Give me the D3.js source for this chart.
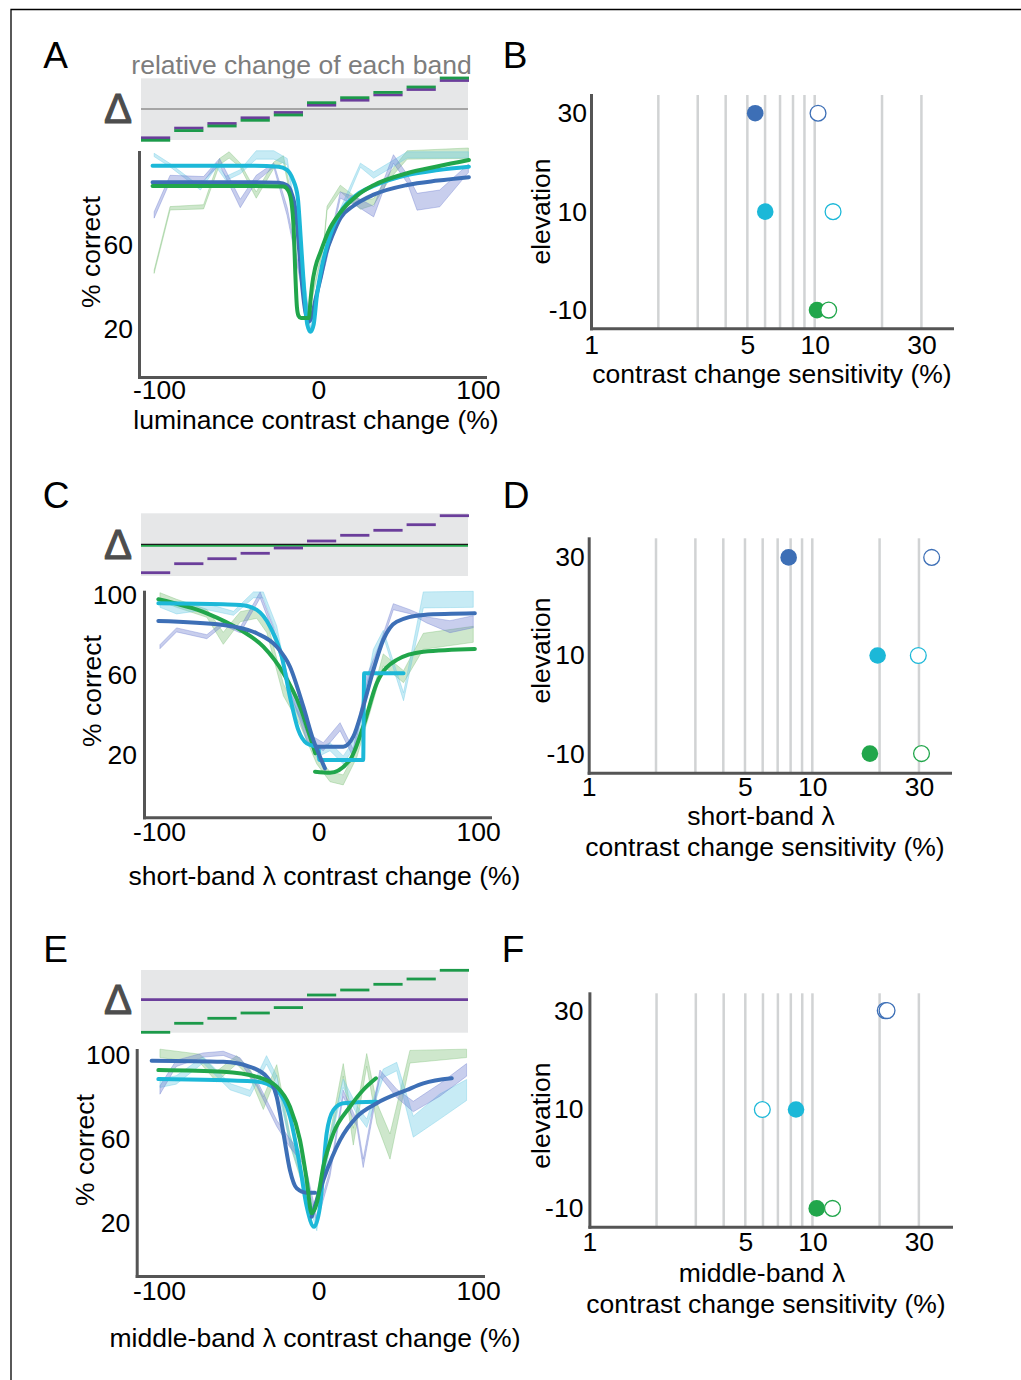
<!DOCTYPE html>
<html>
<head>
<meta charset="utf-8">
<script src="https://cdn.jsdelivr.net/npm/d3@7"></script>
<style>
  body { margin: 0; background: #fff; }
  svg { display: block; font-family: "Liberation Sans", Arial, sans-serif; }
</style>
</head>
<body>
<div id="chart"></div>
<script>
'use strict';

// colours
const BLUE = '#3d6fb6';
const CYAN = '#1cb8d8';
const GREEN = '#21a64b';
const PURPLE = '#6b3e9b';
const STEPGREEN = '#1c9a4a';
const NBLUE = '#6f7fcf';
const NCYAN = '#6ccbe6';
const NGREEN = '#7fbf7a';

// step bars: relative change of each band per stimulus level
const stepLevels = [1, 2, 3, 4, 5, 6, 7, 8, 9, 10];
const stepPurpleA = [-28.8, -19.1, -14.5, -8.8, -3.5, 3.8, 8.8, 14.1, 19.5, 28.5];
const stepGreenA = [-31.3, -21.6, -17.0, -11.3, -6.0, 6.3, 11.3, 16.6, 22.0, 31.0];
const stepPurpleC = [-27.7, -18.7, -13.7, -8.3, -3.0, 4.0, 9.7, 14.7, 20.3, 29.3];
const flatGreenC = -0.8;
const stepGreenE = [-32.7, -23.7, -18.7, -13.4, -8.0, 4.6, 9.6, 15.3, 20.6, 29.3];
const flatPurpleE = 0;

// raw % correct traces: [contrast change, % correct, half band width]
const noisyBlueA = [[-103,74.3,1.5],[-93,91.7,1.5],[-72,91.6,1],[-62,99.7,1.5],[-49,79.8,2],[-39,91.7,1.5],[-28,98,1],[-19.6,75.9,2],[-11.3,44,1.5],[-5,25,1],[5,54,1.5],[13.7,83.8,1.5],[24,80.6,2],[34.6,75.9,2.5],[47,101,2],[55.6,91.7,2],[61.8,80.6,4],[76,82.2,4],[94,96.5,2]];
const noisyCyanA = [[-103,102.9,0.8],[-93,98,0.8],[-74,87,0.8],[-64,98,1],[-58,91.7,1],[-49,94.9,1],[-39,102.9,2],[-28,102.9,2],[-19.6,99.7,1.5],[-11.3,60,1.5],[-5,19.5,1],[5,56.8,2],[13.7,75.9,1.5],[26.3,98,1],[34.6,93.3,1.5],[45,98,1.5],[55.6,102.9,1.5],[94,102.9,1.5]];
const noisyGreenA = [[-103,47.3,0.8],[-93,77.5,0.8],[-72,78.2,1],[-62,99.7,1.5],[-56,102.9,1.5],[-49,98,1],[-39,83.8,1.5],[-28,98,1.5],[-22,101,1.5],[-13,67.9,1.5],[-7,25,1],[3.3,60,1],[5.4,77.5,1],[13.7,87,1.5],[26.3,79,2],[34.6,80.6,1.5],[45,93.3,1.5],[55.6,102.9,2],[94,103.7,2.5]];

const noisyBlueC = [[-99.4,74.3,1],[-89,82.7,1],[-70,79.3,1],[-59.7,86,1],[-49,82.7,1.5],[-36.6,100.2,1.5],[-28.3,82.7,1.5],[-17.9,54.3,2],[-7.4,29.3,2],[3,24.3,2],[13.5,34.3,2],[21.8,21,2],[30.2,57.7,2],[38.5,74.3,1.5],[46.9,94.3,1.5],[57.3,91.8,1],[67.8,87.7,1.5],[82.4,84.3,3],[97,86.8,3]];
const noisyCyanC = [[-99.4,96,2],[-89,92.7,2],[-70,94.3,1.5],[-53.3,91,1],[-40.8,100.2,1.5],[-34.6,100.2,1.5],[-26.2,82.7,2],[-17.9,49.3,2],[-9.5,37.7,2],[-1.1,21,2],[7.2,24.3,2],[15.5,17.7,2],[24,27.7,2],[34.4,71,2],[40.6,81,1.5],[53.3,49.3,2],[65.7,97.7,4],[97,98,4]];
const noisyGreenC = [[-99.4,99.3,2],[-89,96,2],[-70,91,2],[-59.7,78.5,3],[-49,89.3,2.5],[-38.7,91,2.5],[-32.4,84.3,3],[-22,52.7,3],[-11.6,37.7,2.5],[-1.1,17.7,2],[7.2,9.3,2.5],[15.5,7.7,2.5],[24,21,2],[32.4,44.3,2.5],[40.6,67.7,3],[53.3,59.3,3],[65.7,77,4],[97,80.5,4]];

const noisyBlueE = [[-99.4,83.3,2],[-89.2,96,1.5],[-72.3,100,1],[-59.7,100.8,1],[-49.2,97.7,1],[-38.7,86.5,1.5],[-26.2,67.4,1.5],[-17.9,57.9,2],[-9.5,49.9,2],[-1.1,21.3,1.5],[7.2,43.6,1.5],[15.5,81.7,1.5],[24,67.4,1.5],[28,48.3,2],[38.5,91.3,1.5],[49,81.7,2],[59.4,75.4,2.5],[76,83.3,3],[92.8,92.9,3]];
const noisyCyanE = [[-99.4,86.5,2],[-89.2,88.1,2],[-72.3,97.7,1.5],[-55.5,84.9,1.5],[-43,81.7,1.5],[-32.6,97.7,2],[-26.2,88.1,2],[-17.9,59.5,2],[-9.5,40.4,2],[-1.1,18.1,2],[7.2,59.5,2],[15.5,86.5,2],[24,73.8,2],[30.2,67.4,2],[40.6,91.3,2],[49,94.5,2],[59.4,65.8,5],[76,75.4,6],[92.8,83.3,5]];
const noisyGreenE = [[-99.4,100.8,2],[-74.4,98.4,2],[-63.9,89.7,2.5],[-51.4,97.7,2],[-43,91.3,2],[-34.6,77,3],[-26.2,92.9,2.5],[-17.9,59.5,2.5],[-9.5,38.8,2],[-3.3,24.5,2],[7.2,59.5,3],[15.5,92.9,3],[21.8,61,4],[30.2,97.7,3],[36.5,72.2,5],[44.8,56.3,6],[57.3,99.2,3],[92.8,100.8,2]];

// fitted psychometric curves (null = gap between pieces)
const fitBlueA = [[-104,89.9],[-40,89.9],[-25,89.6],[-20,88.6],[-17,85],[-14,74.5],[-12,56.7],[-10,38.9],[-8,27.3],[-6,23.5],[-4,26.3],[-2,33.6],[1.3,44.1],[5,56.7],[9,65],[13.8,72.9],[22,78.7],[34.6,84],[55.6,88.6],[75,90.7],[94.3,92.3]];
const fitCyanA = [[-104,97.7],[-40,97.7],[-25,97.3],[-20,95.9],[-16,91.2],[-13,82.9],[-11,61.9],[-9,38.9],[-7,22.1],[-5,18.7],[-3,22.1],[-1,35.7],[2,49.3],[5.4,59.8],[9,68.2],[13.7,75.5],[24,83.9],[34.6,88.1],[55.6,93.3],[75,95.7],[94.3,97.3]];
const fitGreenA = [[-104,88.1],[-40,88.1],[-22,87.9],[-19,86],[-17,80.8],[-15.5,67.1],[-14.5,46.2],[-13.5,30.5],[-12.5,26.3],[-11,25.2],[-6,25.2],[-5,33.6],[-4,40.9],[-2,49.3],[1.3,56.7],[6,66.1],[13.7,75.5],[24,83.4],[34.6,88.5],[55.6,94.2],[75,97.5],[94.3,100.5]];

const fitBlueC = [[-100.4,87.2],[-59.7,85.2],[-38.7,81],[-26.2,74.3],[-17.9,64.3],[-9.5,44.3],[-3.3,27.7],[0.9,19.3],[4,13.5],null,[-1.1,24.3],[15.5,24.3],[21.8,29.3],[28,44.3],[34.4,62.7],[40.6,77.7],[49,86.8],[65.7,90.2],[98,91]];
const fitCyanC = [[-100.4,96],[-60,95.5],[-49,95.2],[-38.7,92.7],[-30.4,84.3],[-23,69.3],[-17.9,49.3],[-12.7,32.7],[-7.4,26],[-1.1,24.3],[0,24],[0.5,17.7],[28,17.7],[28.6,61],[53.3,61]];
const fitGreenC = [[-100.4,98],[-70,91],[-49,82.7],[-34.6,74.3],[-22,61],[-11.6,44.3],[-5.3,29.3],[-2,21],null,[-2.2,11.8],[7.2,11.3],[19.7,17.7],[28,34.3],[36.5,56],[49,67.7],[65.7,71.8],[98,73.2]];

const fitBlueE = [[-104.6,97.3],[-59.7,96.8],[-43,94.4],[-32.5,89.6],[-26.2,80],[-22,62.6],[-17.9,45],[-13.7,36.4],[-7.4,34.3],[-2.2,34.3],null,[-4.3,22.8],[3,40.3],[13.5,59.4],[24,70.5],[36.5,77],[55.3,83.3],[65.7,86.5],[83.5,88.9]];
const fitCyanE = [[-100.4,88.5],[-38.7,87.3],[-26.2,83.3],[-17.9,70.5],[-11.6,46.7],[-7.4,27.6],[-2.8,18],[0.9,27.6],[5.1,62.6],[9.3,73.7],[15.5,77],[36.5,77.7]];
const fitGreenE = [[-100.4,92.8],[-59.7,92],[-38.7,89.6],[-26.2,84.9],[-17.9,75.3],[-11.6,59.4],[-7.4,40.3],[-4.3,24.4],[-1.1,29.2],[3,46.7],[9.3,62.6],[19.7,75.3],[28,83.3],[36,88.9]];

// sensitivity per elevation (blue 30, cyan 10, green -10)
const elevations = [30, 10, -10];
const elevColors = [BLUE, CYAN, GREEN];
const sensFilledB = [5.42, 6.01, 10.24];
const sensOpenB = [10.35, 12.08, 11.55];
const sensFilledD = [7.84, 19.6, 18.1];
const sensOpenD = [34.2, 29.8, 30.8];
const sensFilledF = [null, 8.44, 10.45];
const sensOpenF = [21.2, 5.96, 12.3];
const sensOpenF2 = [21.6, null, null];
const gridValues = [2, 3, 4, 5, 6, 7, 8, 9, 10, 20, 30];
const sensTicks = [1, 5, 10, 30];

const FONT = 26.5;
const svg = d3.select('#chart').append('svg')
  .attr('width', 1021)
  .attr('height', 1380);

// frame
svg.append('path')
  .attr('d', 'M11,1380V9.5H1021')
  .attr('fill', 'none')
  .attr('stroke', '#000')
  .attr('stroke-width', 1.3);

function label(x, y, txt, size, fill) {
  return svg.append('text')
    .attr('x', x)
    .attr('y', y)
    .attr('text-anchor', 'middle')
    .attr('font-size', size || FONT)
    .attr('fill', fill || '#000')
    .text(txt);
}

function vlabel(x, y, txt) {
  svg.append('text')
    .attr('transform', `translate(${x},${y}) rotate(-90)`)
    .attr('text-anchor', 'middle')
    .attr('font-size', FONT)
    .text(txt);
}

function styleAxis(sel) {
  sel.attr('font-size', null).attr('font-family', null);
  sel.select('.domain')
    .attr('stroke', '#555')
    .attr('stroke-width', 3)
    .attr('stroke-linecap', 'square');
  sel.selectAll('text')
    .attr('font-size', FONT)
    .attr('fill', '#000');
}

// step band on top of the curve panels
function stepBand(cfg) {
  const g = svg.append('g');
  const bx = d3.scaleBand().domain(stepLevels).range([141, 469]).paddingInner(0.12).paddingOuter(0);
  const by = d3.scaleLinear().domain([-32, 32]).range([cfg.mid + 32, cfg.mid - 32]);

  g.append('rect')
    .attr('x', 141)
    .attr('width', 327)
    .attr('y', by(cfg.top))
    .attr('height', by(cfg.bottom) - by(cfg.top))
    .attr('fill', '#e6e7e8');

  g.append('text')
    .attr('x', 118)
    .attr('y', cfg.mid + 14)
    .attr('text-anchor', 'middle')
    .attr('font-size', 42)
    .attr('fill', '#4d4d4d')
    .attr('stroke', '#4d4d4d')
    .attr('stroke-width', 1.1)
    .text('Δ');

  (cfg.flats || []).forEach(f => {
    g.append('line')
      .attr('x1', 141).attr('x2', 468)
      .attr('y1', by(f.value)).attr('y2', by(f.value))
      .attr('stroke', f.color)
      .attr('stroke-width', f.width);
  });

  (cfg.steps || []).forEach(s => {
    g.selectAll(null)
      .data(s.values)
      .enter()
      .append('line')
      .attr('x1', (d, i) => bx(stepLevels[i]))
      .attr('x2', (d, i) => bx(stepLevels[i]) + bx.bandwidth())
      .attr('y1', d => by(d))
      .attr('y2', d => by(d))
      .attr('stroke', s.color)
      .attr('stroke-width', 2.8);
  });
}

// % correct vs contrast change
function curvePanel(cfg) {
  const x = d3.scaleLinear().domain(cfg.xDomain).range(cfg.xRange);
  const y = d3.scaleLinear().domain(cfg.yDomain).range(cfg.yRange);
  const g = svg.append('g');

  const area = d3.area()
    .x(d => x(d[0]))
    .y0(d => y(d[1] - d[2]))
    .y1(d => y(d[1] + d[2]));

  cfg.noisy.forEach(s => {
    g.append('path')
      .datum(s.data)
      .attr('d', area)
      .attr('fill', s.color)
      .attr('fill-opacity', 0.38)
      .attr('stroke', s.color)
      .attr('stroke-opacity', 0.38)
      .attr('stroke-width', 1);
  });

  const line = d3.line()
    .defined(d => d !== null)
    .x(d => x(d[0]))
    .y(d => y(d[1]))
    .curve(d3.curveMonotoneX);

  cfg.fits.forEach(s => {
    g.append('path')
      .datum(s.data)
      .attr('d', line)
      .attr('fill', 'none')
      .attr('stroke', s.color)
      .attr('stroke-width', 4)
      .attr('stroke-linecap', 'round')
      .attr('stroke-linejoin', 'round');
  });

  g.append('g')
    .attr('transform', `translate(0,${cfg.yRange[0]})`)
    .call(d3.axisBottom(x).tickValues([-100, 0, 100]).tickFormat(d => String(d))
      .tickSize(0).tickSizeOuter(0).tickPadding(cfg.xPad))
    .call(styleAxis);

  g.append('g')
    .attr('transform', `translate(${cfg.xRange[0]},0)`)
    .call(d3.axisLeft(y).tickValues(cfg.yTicks).tickFormat(d => String(d))
      .tickSize(0).tickSizeOuter(0).tickPadding(cfg.yPad))
    .call(styleAxis);
}

// contrast change sensitivity per elevation
function sensPanel(cfg) {
  const x = d3.scaleLog().domain(cfg.xDomain).range(cfg.xRange);
  const y = d3.scaleLinear().domain(cfg.yDomain).range(cfg.yRange);
  const g = svg.append('g');

  g.selectAll(null)
    .data(gridValues)
    .enter()
    .append('line')
    .attr('x1', d => x(d))
    .attr('x2', d => x(d))
    .attr('y1', cfg.yRange[1])
    .attr('y2', cfg.yRange[0])
    .attr('stroke', '#d1d3d4')
    .attr('stroke-width', 2.5);

  g.append('g')
    .attr('transform', `translate(0,${cfg.yRange[0]})`)
    .call(d3.axisBottom(x).tickValues(sensTicks).tickFormat(d => String(d))
      .tickSize(0).tickSizeOuter(0).tickPadding(cfg.xPad))
    .call(styleAxis);

  g.append('g')
    .attr('transform', `translate(${cfg.xRange[0]},0)`)
    .call(d3.axisLeft(y).tickValues(elevations).tickFormat(d => String(d))
      .tickSize(0).tickSizeOuter(0).tickPadding(cfg.yPad))
    .call(styleAxis);

  elevations.forEach((e, i) => {
    if (cfg.filled[i] !== null) {
      g.append('circle')
        .attr('cx', x(cfg.filled[i]))
        .attr('cy', y(e))
        .attr('r', 8.3)
        .attr('fill', elevColors[i]);
    }
    cfg.open.forEach(arr => {
      if (arr[i] === null) return;
      g.append('circle')
        .attr('cx', x(arr[i]))
        .attr('cy', y(e))
        .attr('r', 7.9)
        .attr('fill', '#fff')
        .attr('stroke', elevColors[i])
        .attr('stroke-width', 1.3);
    });
  });
}

// ---------- A ----------
label(55.5, 68, 'A', 37);
label(301.5, 74, 'relative change of each band', FONT, '#7d7d7d');
stepBand({
  mid: 109, top: 30.7, bottom: -31,
  flats: [{ value: 0, color: '#8f8f8f', width: 1.3 }],
  steps: [{ values: stepPurpleA, color: PURPLE }, { values: stepGreenA, color: STEPGREEN }]
});
curvePanel({
  xDomain: [-112.5, 104.4], xRange: [139, 485],
  yDomain: [-2.86, 104.3], yRange: [377, 152],
  yTicks: [20, 60], xPad: 3, yPad: 6,
  noisy: [
    { data: noisyGreenA, color: NGREEN },
    { data: noisyCyanA, color: NCYAN },
    { data: noisyBlueA, color: NBLUE }
  ],
  fits: [
    { data: fitBlueA, color: BLUE },
    { data: fitCyanA, color: CYAN },
    { data: fitGreenA, color: GREEN }
  ]
});
vlabel(100, 252, '% correct');
label(316, 429, 'luminance contrast change (%)');

// ---------- B ----------
label(515, 68, 'B', 37);
sensPanel({
  xDomain: [1, 41.1], xRange: [591, 952],
  yDomain: [-13.7, 33.7], yRange: [328.3, 95],
  xPad: 7, yPad: 4,
  filled: sensFilledB, open: [sensOpenB]
});
vlabel(550, 211.5, 'elevation');
label(772, 383, 'contrast change sensitivity (%)');

// ---------- C ----------
label(56, 508, 'C', 37);
stepBand({
  mid: 545, top: 31.7, bottom: -31,
  flats: [{ value: 0.65, color: '#1a1a1a', width: 1.4 }, { value: flatGreenC, color: GREEN, width: 1.8 }],
  steps: [{ values: stepPurpleC, color: PURPLE }]
});
curvePanel({
  xDomain: [-109.4, 107.5], xRange: [144, 490],
  yDomain: [-11, 101.8], yRange: [817.3, 591.7],
  yTicks: [20, 60, 100], xPad: 5, yPad: 7,
  noisy: [
    { data: noisyGreenC, color: NGREEN },
    { data: noisyCyanC, color: NCYAN },
    { data: noisyBlueC, color: NBLUE }
  ],
  fits: [
    { data: fitGreenC, color: GREEN },
    { data: fitCyanC, color: CYAN },
    { data: fitBlueC, color: BLUE }
  ]
});
vlabel(101, 691, '% correct');
label(324.5, 885, 'short-band λ contrast change (%)');

// ---------- D ----------
label(516, 508, 'D', 37);
sensPanel({
  xDomain: [1, 41.3], xRange: [588.7, 950],
  yDomain: [-13.9, 33.9], yRange: [772.7, 538.3],
  xPad: 4, yPad: 4,
  filled: sensFilledD, open: [sensOpenD]
});
vlabel(550, 650.5, 'elevation');
label(761, 825, 'short-band λ');
label(765, 856, 'contrast change sensitivity (%)');

// ---------- E ----------
label(55.5, 962, 'E', 37);
stepBand({
  mid: 999.6, top: 29.6, bottom: -33.1,
  flats: [{ value: flatPurpleE, color: PURPLE, width: 2.7 }],
  steps: [{ values: stepGreenE, color: STEPGREEN }]
});
curvePanel({
  xDomain: [-113.98, 103.1], xRange: [136.7, 483],
  yDomain: [-5.5, 102.4], yRange: [1276, 1050],
  yTicks: [20, 60, 100], xPad: 5, yPad: 6.5,
  noisy: [
    { data: noisyGreenE, color: NGREEN },
    { data: noisyCyanE, color: NCYAN },
    { data: noisyBlueE, color: NBLUE }
  ],
  fits: [
    { data: fitCyanE, color: CYAN },
    { data: fitBlueE, color: BLUE },
    { data: fitGreenE, color: GREEN }
  ]
});
vlabel(94, 1150, '% correct');
label(315, 1347, 'middle-band λ contrast change (%)');

// ---------- F ----------
label(513, 962, 'F', 37);
sensPanel({
  xDomain: [1, 41.8], xRange: [589.4, 951],
  yDomain: [-13.7, 33.5], yRange: [1226.7, 993.3],
  xPad: 5, yPad: 6,
  filled: sensFilledF, open: [sensOpenF, sensOpenF2]
});
vlabel(550, 1115.6, 'elevation');
label(762, 1282, 'middle-band λ');
label(766, 1313, 'contrast change sensitivity (%)');
</script>
</body>
</html>
